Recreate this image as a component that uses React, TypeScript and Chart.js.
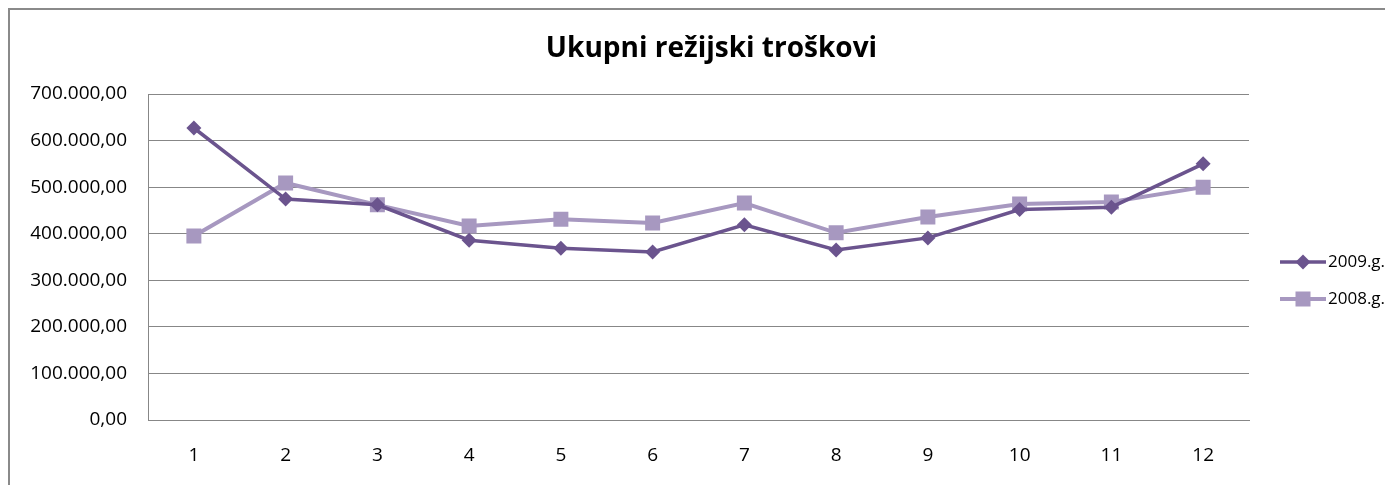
import React, { useEffect, useRef } from "react";
import { Chart, registerables } from "chart.js";

Chart.register(...registerables);

const categories = ["1", "2", "3", "4", "5", "6", "7", "8", "9", "10", "11", "12"];
const series2009 = [627000, 474500, 462000, 386000, 369000, 361000, 419000, 365000, 391000, 452000, 457000, 550000];
const series2008 = [395000, 509000, 462000, 416500, 431000, 423000, 466000, 402000, 436000, 464000, 468000, 500000];
const seriesNames = ["2009.g.", "2008.g."];
const titleText = "Ukupni režijski troškovi";

const DARK = "#6B548E";
const LIGHT = "#A798C0";
const GRID = "#878787";
const FONT = "'Open Sans', 'Noto Sans', sans-serif";

const fmt = (v: number) => {
  const s = Math.round(v).toString().replace(/\B(?=(\d{3})+(?!\d))/g, ".");
  return s + ",00";
};

const titleShiftPlugin = {
  id: "titleShift",
  afterLayout(chart: any) {
    const t = chart.titleBlock;
    if (t) {
      t.left = 20;
      t.right = 1383;
      t.width = 1363;
    }
  },
};

const legendPlugin = {
  id: "customLegend",
  afterDraw(chart: any) {
    const ctx = chart.ctx;
    const items = [
      { label: seriesNames[0], color: DARK, style: "diamond", y: 252, lw: 3.5 },
      { label: seriesNames[1], color: LIGHT, style: "square", y: 289, lw: 4 },
    ];
    ctx.save();
    items.forEach((it) => {
      ctx.strokeStyle = it.color;
      ctx.fillStyle = it.color;
      ctx.lineWidth = it.lw;
      ctx.beginPath();
      ctx.moveTo(1270, it.y);
      ctx.lineTo(1316, it.y);
      ctx.stroke();
      const cx = 1293;
      if (it.style === "diamond") {
        ctx.beginPath();
        ctx.moveTo(cx, it.y - 7.5);
        ctx.lineTo(cx + 7.5, it.y);
        ctx.lineTo(cx, it.y + 7.5);
        ctx.lineTo(cx - 7.5, it.y);
        ctx.closePath();
        ctx.fill();
      } else {
        ctx.fillRect(cx - 7.5, it.y - 7.5, 15, 15);
      }
      ctx.fillStyle = "#000";
      ctx.font = `17px ${FONT}`;
      ctx.textBaseline = "middle";
      ctx.textAlign = "left";
      ctx.fillText(it.label, 1318, it.y);
    });
    ctx.restore();
  },
};

export default function App() {
  const ref = useRef<HTMLCanvasElement | null>(null);
  useEffect(() => {
    if (!ref.current) return;
    const chart = new Chart(ref.current, {
      type: "line",
      data: {
        labels: categories,
        datasets: [
          {
            label: seriesNames[0],
            data: series2009,
            borderColor: DARK,
            backgroundColor: DARK,
            borderWidth: 3.5,
            pointStyle: "rectRot",
            pointRadius: 7.5,
            pointBorderWidth: 0,
            tension: 0,
          },
          {
            label: seriesNames[1],
            data: series2008,
            borderColor: LIGHT,
            backgroundColor: LIGHT,
            borderWidth: 4,
            pointStyle: "rect",
            pointRadius: 10.6,
            pointBorderWidth: 0,
            tension: 0,
          },
        ],
      },
      options: {
        animation: false,
        responsive: false,
        layout: { padding: { top: 4, right: 144, bottom: 0, left: 0 } },
        plugins: {
          legend: { display: false },
          tooltip: { enabled: false },
          title: {
            display: true,
            text: titleText,
            color: "#000",
            font: { family: FONT, size: 28, weight: "bold", lineHeight: 1.2 },
            padding: { top: 18, bottom: 28.4 },
          },
        },
        scales: {
          x: {
            offset: true,
            grid: { display: false, drawTicks: false },
            border: { display: true, color: GRID, width: 1 },
            ticks: { color: "#000", font: { family: FONT, size: 19 }, padding: 24, maxRotation: 0 },
            afterFit: (s: any) => {
              s.height = 65;
            },
          },
          y: {
            min: 0,
            max: 700000,
            grid: { color: GRID, lineWidth: 1, drawTicks: false },
            border: { display: true, color: GRID, width: 1 },
            ticks: {
              stepSize: 100000,
              color: "#000",
              font: { family: FONT, size: 19 },
              padding: 21,
              callback: (v: any) => fmt(Number(v)),
            },
            afterFit: (s: any) => {
              s.width = 138;
            },
          },
        },
      },
      plugins: [titleShiftPlugin, legendPlugin],
    });
    return () => chart.destroy();
  }, []);
  return (
    <div
      style={{
        width: 1383,
        height: 475,
        borderLeft: "2px solid #8a8a8a",
        borderTop: "2px solid #8a8a8a",
        background: "#fff",
      }}
    >
      <canvas ref={ref} width={1383} height={475} style={{ display: "block" }} />
    </div>
  );
}
